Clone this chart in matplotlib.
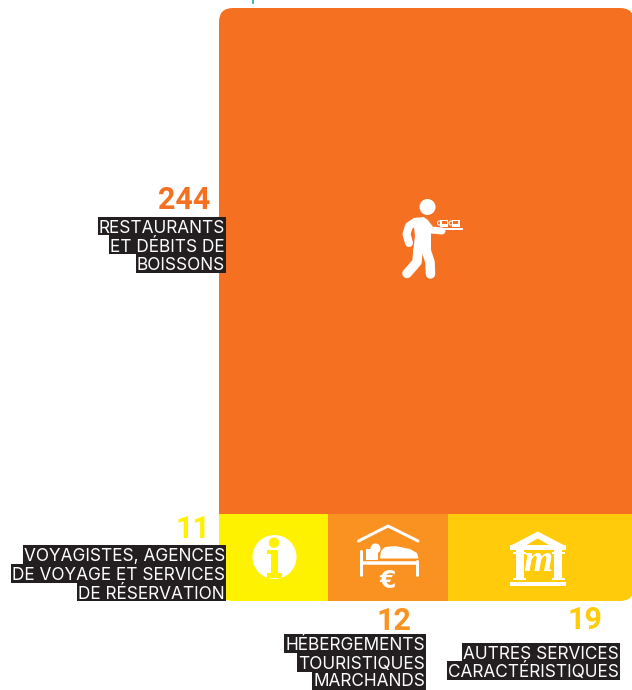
import matplotlib
matplotlib.use('Agg')
import matplotlib.pyplot as plt
from matplotlib.patches import Circle, FancyBboxPatch, Polygon, Rectangle

# Data
categories = ['RESTAURANTS\nET DÉBITS DE\nBOISSONS',
              'VOYAGISTES, AGENCES\nDE VOYAGE ET SERVICES\nDE RÉSERVATION',
              'HÉBERGEMENTS\nTOURISTIQUES\nMARCHANDS',
              'AUTRES SERVICES\nCARACTÉRISTIQUES']
top_value = 244
bottom_values = [11.0, 12.1, 18.8]
value_labels = ['244', '11', '12', '19']
colors = ['#f57021', '#fff200', '#f99220', '#ffcb0a']

W, H = 632, 690
DARK = '#231f20'
LABEL_FONT = 'Inter'
NUMBER_FONT = 'Roboto'

fig = plt.figure(figsize=(W / 100, H / 100), dpi=100, facecolor='white')

# Overlay in image pixels for the labels and the icons
ov = fig.add_axes([0, 0, 1, 1], zorder=2)
ov.set_xlim(0, W)
ov.set_ylim(H, 0)
ov.axis('off')


# Treemap: the big block on top, the three small ones side by side below
def draw_treemap():
    left, right, top, bottom = 219, 634, 8, 601
    ax = fig.add_axes([left / W, 1 - bottom / H, (right - left) / W, (bottom - top) / H], zorder=1)
    total = sum(bottom_values)
    ax.set_xlim(0, total)
    ax.set_ylim(0, 1 + top_value / total)
    ax.axis('off')

    outline = FancyBboxPatch((left, top), right - left, bottom - top,
                             boxstyle='round,pad=0,rounding_size=14',
                             transform=ov.transData, facecolor='none', edgecolor='none')
    bars = [ax.bar(0, top_value / total, width=total, bottom=1, align='edge', color=colors[0], linewidth=0)[0]]
    start = 0
    for value, color in zip(bottom_values, colors[1:]):
        bars.append(ax.bar(start, 1, width=value, align='edge', color=color, linewidth=0)[0])
        start += value
    for bar in bars:
        bar.set_clip_path(outline)


# One dark strip behind each line of text, right aligned
def draw_label(text, right, baselines, box_top, pitch=18.8):
    renderer = fig.canvas.get_renderer()
    for i, (line, base) in enumerate(zip(text.split('\n'), baselines)):
        t = ov.text(right - 1, base, line, ha='right', va='baseline', color='white',
                    family=LABEL_FONT, fontsize=12.4, zorder=5)
        ext = t.get_window_extent(renderer)
        y0 = box_top + i * pitch
        ov.add_patch(Rectangle((ext.x0 - 1, y0), right - ext.x0 + 1, pitch, facecolor=DARK,
                               edgecolor='none', zorder=4))


def draw_number(text, right, base, color):
    ov.text(right, base, text, ha='right', va='baseline', color=color, family=NUMBER_FONT,
            fontweight='bold', fontsize=22, zorder=5)


def stroke(xs, ys, width, color='white', cap='round', z=6):
    ov.plot(xs, ys, color=color, lw=width * 0.72, solid_capstyle=cap, solid_joinstyle='round', zorder=z)


def fill(x, y, w, h, color='white', z=6):
    ov.add_patch(Rectangle((x, y), w, h, facecolor=color, edgecolor='none', zorder=z))


def draw_waiter():
    ov.add_patch(Circle((427.5, 207), 8, facecolor='white', edgecolor='none', zorder=6))
    # back arm
    stroke([415, 409, 406.5, 409], [222, 226, 234, 243], 8)
    # torso
    ov.add_patch(Polygon([(413, 218), (424, 217), (431, 226), (431, 252), (413, 252), (415, 236)],
                         facecolor='white', edgecolor='none', zorder=6))
    # front arm
    stroke([425, 431, 442], [222, 230, 231], 7)
    # legs
    stroke([418, 417, 407], [250, 262, 273.5], 9.5)
    stroke([426, 430, 430.5], [250, 262, 274], 9.5)
    # tray and cups
    stroke([437, 463], [229, 229], 2, cap='butt')
    for x in (440, 451.5):
        fill(x, 219.5, 8, 7)
        fill(x + 1.5, 221, 5, 3, colors[0], 7)
        ov.add_patch(Circle((x - 0.5, 223), 2, facecolor='none', edgecolor='white', lw=0.8, zorder=6))


def draw_info():
    ov.add_patch(Circle((274.5, 557), 22, facecolor='white', edgecolor='none', zorder=6))
    yellow = colors[1]
    ov.add_patch(Circle((274, 542.7), 5.2, facecolor=yellow, edgecolor='none', zorder=7))
    fill(267, 550, 10, 4, yellow, 7)
    fill(271, 550, 6.5, 25, yellow, 7)
    fill(267, 573, 15, 4.5, yellow, 7)


def draw_bed():
    stroke([358.5, 388, 418], [541, 526, 541], 3)
    stroke([361, 361], [551, 575], 3)
    stroke([417, 417], [561, 575], 3)
    stroke([361, 417], [563, 563], 3.5, cap='butt')
    ov.add_patch(Circle((375.5, 548.5), 5, facecolor='white', edgecolor='none', zorder=6))
    fill(366, 549, 12, 11)
    ov.add_patch(Polygon([(380, 558.5), (381, 551), (385, 547), (395, 546), (410, 549), (417, 553),
                          (418.5, 558.5)], facecolor='white', edgecolor='none', zorder=6))
    ov.text(388, 588, '€', ha='center', va='baseline', color='white', family='DejaVu Sans',
            fontweight='bold', fontsize=17, zorder=6)


def draw_museum():
    gold = colors[3]
    ov.add_patch(Polygon([(537.7, 531.5), (565.5, 546), (510, 546)], facecolor='white', edgecolor='none', zorder=6))
    ov.add_patch(Polygon([(537.7, 538.5), (549, 545), (526.5, 545)], facecolor=gold, edgecolor='none', zorder=7))
    fill(510, 545, 55.7, 4.5)
    for x in (515.5, 554):
        fill(x, 549, 8, 31)
        fill(x - 2.5, 551.5, 13, 2)
        fill(x - 2.5, 577.5, 13, 2.5)
    fill(510, 582, 55.7, 3.5)
    ov.text(538, 571, 'm', ha='center', va='baseline', color='white', family='Liberation Serif',
            style='italic', fontweight='bold', fontsize=27, zorder=6)


draw_treemap()
ov.plot([253, 253], [0, 2.5], color='#2aa0c0', lw=1.2, zorder=3)

draw_number(value_labels[0], 210, 209, colors[0])
draw_number(value_labels[1], 210, 537.5, colors[1])
draw_number(value_labels[2], 411, 630, colors[2])
draw_number(value_labels[3], 603, 629, colors[3])

draw_label(categories[0], 226, [233, 252, 270.5], 216.5)
draw_label(categories[1], 226, [561, 580, 599], 545)
draw_label(categories[2], 426, [650, 668.5, 686], 634)
draw_label(categories[3], 620, [659, 677.5], 642.5)

draw_waiter()
draw_info()
draw_bed()
draw_museum()

fig.savefig('out.png', dpi=100, facecolor='white')
